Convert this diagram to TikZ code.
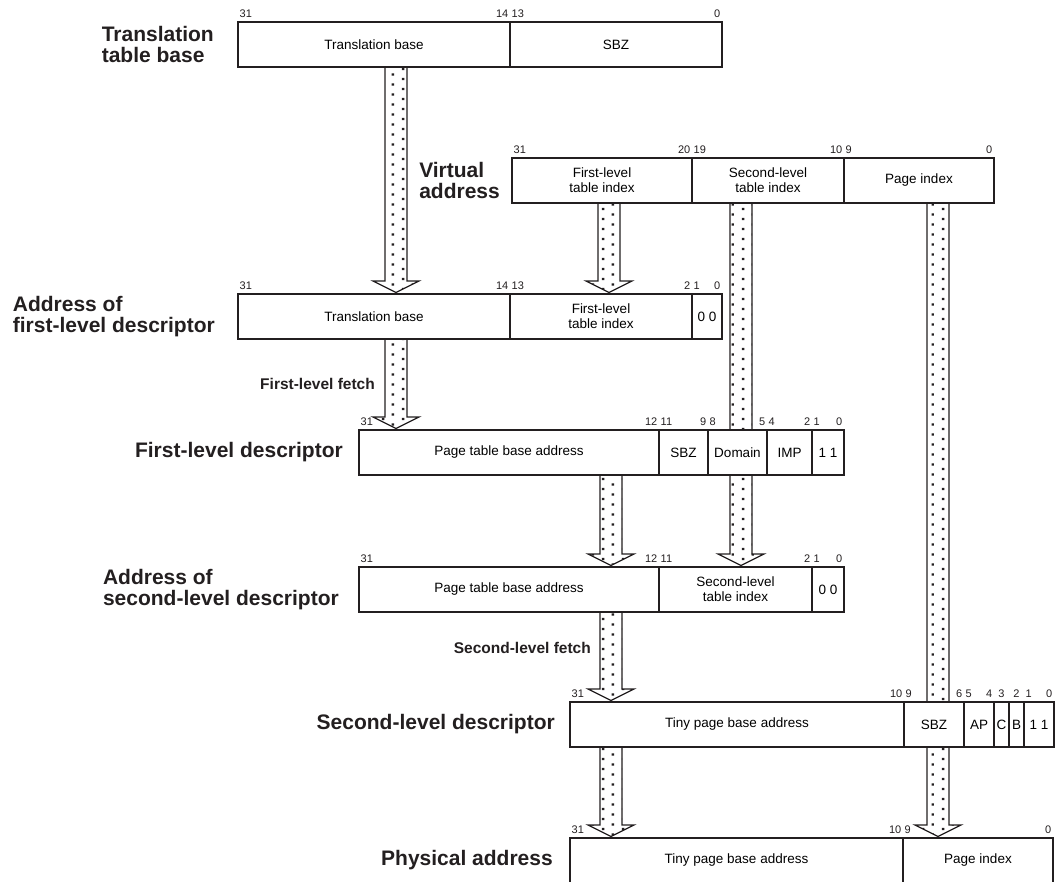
\documentclass[tikz,border=0pt]{standalone}
\usepackage{fontspec}
\setmainfont{Liberation Sans}
\usetikzlibrary{positioning,calc,backgrounds,patterns}
\definecolor{ink}{HTML}{231F20}

% stipple used inside the wide arrows
\pgfdeclarepatternformonly{stipple}{\pgfpointorigin}{\pgfpoint{20pt}{10pt}}{\pgfpoint{20pt}{10pt}}{%
  \pgfpathrectangle{\pgfpoint{2pt}{2pt}}{\pgfpoint{2.5pt}{2.5pt}}%
  \pgfpathrectangle{\pgfpoint{12pt}{7pt}}{\pgfpoint{2.5pt}{2.5pt}}%
  \pgfusepath{fill}}

\begin{document}
\begin{tikzpicture}[
  x=1pt, y=-1pt,
  cell/.style={draw=ink, line width=1.1pt, fill=white, inner sep=0pt, outer sep=0pt,
    minimum height=45pt, align=center, font=\fontsize{13.5}{15}\selectfont},
  bitno/.style={inner xsep=1.5pt, inner ysep=4pt, text=ink, font=\fontsize{11}{12}\selectfont},
  lbl/.style={inner sep=0pt, align=left, text=ink, font=\fontsize{21}{21}\selectfont\bfseries},
  fetch/.style={inner sep=0pt, text=ink, font=\fontsize{15.5}{17}\selectfont\bfseries},
  fat/.style={draw=ink, line width=1.2pt, preaction={fill=white}, pattern=stipple, pattern color=ink},
]
\useasboundingbox (0,0) rectangle (1061,882);

% ---------- one field of a register: name x1 x2 top text ----------
\newcommand{\fld}[5]{%
  \node[cell, minimum width={(#3-#2)*1pt}, anchor=north west] (#1) at (#2,#4) {#5};}
\newcommand{\hib}[2]{\node[bitno, anchor=south west] (#1-hi) at (#1.north west) {#2};}
\newcommand{\lob}[2]{\node[bitno, anchor=south east] (#1-lo) at (#1.north east) {#2};}
\newcommand{\oneb}[2]{\node[bitno, anchor=south] (#1-bit) at (#1.north) {#2};}
% ---------- wide stippled arrow: from to column ----------
\newcommand{\fatarr}[3]{%
  \draw[fat] let \p1=(#1.south -| #3), \p2=(#2.north -| #3) in
    (\x1-11pt,\y1) -- (\x1-11pt,\y2+13pt) -- (\x1-23pt,\y2+13pt) -- (\x1,\y2+1.5pt)
    -- (\x1+23pt,\y2+13pt) -- (\x1+11pt,\y2+13pt) -- (\x1+11pt,\y1);}

% arrow columns
\coordinate (xa) at (396,0);
\coordinate (xb) at (609,0);
\coordinate (xc) at (741,0);
\coordinate (xd) at (611,0);
\coordinate (xe) at (938,0);

% =====================================================================
% TRANSLATION TABLE BASE
% =====================================================================
\def\Ay{22}
\fld{tb1}{238}{510}{\Ay}{Translation base}
\fld{tb2}{510}{722}{\Ay}{SBZ}
\hib{tb1}{31} \lob{tb1}{14} \hib{tb2}{13} \lob{tb2}{0}
\node[lbl, left=24pt of tb1] (tbl) {Translation\\table base};

% =====================================================================
% VIRTUAL ADDRESS
% =====================================================================
\def\By{158}
\fld{va1}{512}{692}{\By}{First-level\\table index}
\fld{va2}{692}{844}{\By}{Second-level\\table index}
\fld{va3}{844}{994}{\By}{Page index}
\hib{va1}{31} \lob{va1}{20} \hib{va2}{19} \lob{va2}{10} \hib{va3}{9} \lob{va3}{0}
\node[lbl, left=12pt of va1] (val) {Virtual\\address};

% =====================================================================
% ADDRESS OF FIRST-LEVEL DESCRIPTOR
% =====================================================================
\def\Cy{294}
\fld{af1}{238}{510}{\Cy}{Translation base}
\fld{af2}{510}{692}{\Cy}{First-level\\table index}
\fld{af3}{692}{722}{\Cy}{0 0}
\hib{af1}{31} \lob{af1}{14} \hib{af2}{13} \lob{af2}{2} \hib{af3}{1} \lob{af3}{0}
\node[lbl, left=23pt of af1] (afl) {Address of\\first-level descriptor};
\node[fetch, anchor=east] (ff) at (375,384) {First-level fetch};

% =====================================================================
% FIRST-LEVEL DESCRIPTOR
% =====================================================================
\def\Dy{430}
\fld{fd1}{359}{659}{\Dy}{Page table base address}
\fld{fd2}{659}{708}{\Dy}{SBZ}
\fld{fd3}{708}{767}{\Dy}{Domain}
\fld{fd4}{767}{812}{\Dy}{IMP}
\fld{fd5}{812}{844}{\Dy}{1 1}
\hib{fd1}{31} \lob{fd1}{12} \hib{fd2}{11} \lob{fd2}{9} \hib{fd3}{8} \lob{fd3}{5}
\hib{fd4}{4} \lob{fd4}{2} \hib{fd5}{1} \lob{fd5}{0}
\node[lbl, left=16pt of fd1] (fdl) {First-level descriptor};

% =====================================================================
% ADDRESS OF SECOND-LEVEL DESCRIPTOR
% =====================================================================
\def\Ey{567}
\fld{ad1}{359}{659}{\Ey}{Page table base address}
\fld{ad2}{659}{812}{\Ey}{Second-level\\table index}
\fld{ad3}{812}{844}{\Ey}{0 0}
\hib{ad1}{31} \lob{ad1}{12} \hib{ad2}{11} \lob{ad2}{2} \hib{ad3}{1} \lob{ad3}{0}
\node[lbl, left=20pt of ad1] (adl) {Address of\\second-level descriptor};
\node[fetch, anchor=east] (sf) at (591,648) {Second-level fetch};

% =====================================================================
% SECOND-LEVEL DESCRIPTOR
% =====================================================================
\def\Fy{702}
\fld{sd1}{570}{904}{\Fy}{Tiny page base address}
\fld{sd2}{904}{964}{\Fy}{SBZ}
\fld{sd3}{964}{994}{\Fy}{AP}
\fld{sd4}{994}{1009}{\Fy}{C}
\fld{sd5}{1009}{1024}{\Fy}{B}
\fld{sd6}{1024}{1054}{\Fy}{1 1}
\hib{sd1}{31} \lob{sd1}{10} \hib{sd2}{9} \lob{sd2}{6} \hib{sd3}{5} \lob{sd3}{4}
\oneb{sd4}{3} \oneb{sd5}{2} \hib{sd6}{1} \lob{sd6}{0}
\node[lbl, left=15pt of sd1] (sdl) {Second-level descriptor};

% =====================================================================
% PHYSICAL ADDRESS (runs off the bottom)
% =====================================================================
\def\Gy{838}
\fld{pa1}{570}{903}{\Gy}{Tiny page base address}
\fld{pa2}{903}{1053}{\Gy}{Page index}
\hib{pa1}{31} \lob{pa1}{10} \hib{pa2}{9} \lob{pa2}{0}
\node[lbl, left=17pt of pa1] (pal) {Physical address};

% =====================================================================
% ARROWS (behind the registers)
% =====================================================================
\begin{scope}[on background layer]
  \fatarr{tb1}{af1}{xa}
  \fatarr{va1}{af2}{xb}
  \fatarr{af1}{fd1}{xa}
  \fatarr{va2}{ad2}{xc}
  \fatarr{fd1}{ad1}{xd}
  \fatarr{ad1}{sd1}{xd}
  \fatarr{sd1}{pa1}{xd}
  \fatarr{va3}{pa2}{xe}
\end{scope}

\end{tikzpicture}
\end{document}
